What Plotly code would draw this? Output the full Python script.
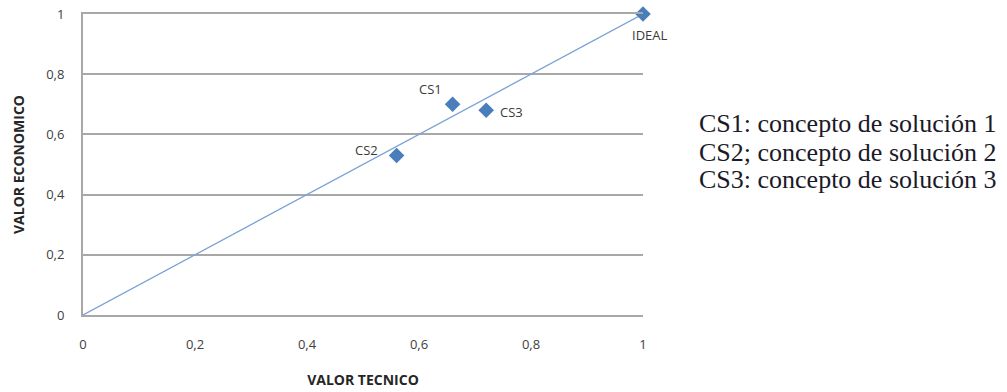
import plotly.graph_objects as go

tick_vals = [0, 0.2, 0.4, 0.6, 0.8, 1]
tick_text = ["0", "0,2", "0,4", "0,6", "0,8", "1"]

point_names = ["CS1", "CS2", "CS3", "IDEAL"]
valor_tecnico = [0.66, 0.56, 0.72, 1.0]
valor_economico = [0.70, 0.53, 0.68, 1.0]

# label offsets in pixels (style only)
label_dx = [-22, -30, 25, 7]
label_dy = [15, 5, -2, -21]

line_x = [0, 1]
line_y = [0, 1]

legend_lines = ["CS1: concepto de solución 1",
                "CS2; concepto de solución 2",
                "CS3: concepto de solución 3"]

ML, MR, MT, MB = 83, 364, 14, 77
W, H = 1007, 392
PW, PH = W - ML - MR, H - MT - MB

GRID = "#a8a8a8"

fig = go.Figure()
fig.add_trace(go.Scatter(x=line_x, y=line_y, mode="lines",
                         line=dict(color="#7ba3d6", width=1.3),
                         showlegend=False, hoverinfo="skip", cliponaxis=False))
fig.add_trace(go.Scatter(x=valor_tecnico, y=valor_economico, mode="markers",
                         text=point_names,
                         marker=dict(symbol="diamond", size=12, color="#4a7ebb"),
                         showlegend=False, cliponaxis=False))

for name, xv, yv, dx, dy in zip(point_names, valor_tecnico, valor_economico, label_dx, label_dy):
    fig.add_annotation(x=xv, y=yv, xref="x", yref="y", text=name, showarrow=False,
                       xshift=dx, yshift=dy,
                       font=dict(family="Open Sans", size=13, color="#3a3a3a"))

for i, line in enumerate(legend_lines):
    ypix = 124 + i * 28
    fig.add_annotation(x=(697 - ML) / PW, y=1 - (ypix - MT) / PH,
                       xref="paper", yref="paper", text=line,
                       showarrow=False, xanchor="left", yanchor="middle", align="left",
                       font=dict(family="Liberation Serif", size=26, color="#1a1a28"))

fig.update_layout(
    width=W, height=H,
    margin=dict(l=ML, r=MR, t=MT, b=MB),
    plot_bgcolor="white", paper_bgcolor="white",
    xaxis=dict(range=[0, 1], tickvals=tick_vals, ticktext=tick_text,
               showgrid=False, zeroline=False,
               showline=True, mirror=True, linecolor=GRID, linewidth=2,
               ticklabelstandoff=16, automargin=False,
               tickfont=dict(family="Open Sans", size=13, color="#404040"),
               title=dict(text="<b>VALOR TECNICO</b>", standoff=24,
                          font=dict(family="Open Sans", size=14, color="#262626"))),
    yaxis=dict(range=[0, 1], tickvals=tick_vals, ticktext=tick_text,
               showgrid=True, gridcolor=GRID, gridwidth=2,
               zeroline=False, showline=True, linecolor=GRID, linewidth=2,
               ticklabelstandoff=14, automargin=False,
               tickfont=dict(family="Open Sans", size=13, color="#404040"),
               title=dict(text="<b>VALOR ECONOMICO</b>", standoff=18,
                          font=dict(family="Open Sans", size=14, color="#262626"))),
)

fig.write_html("out.html")
